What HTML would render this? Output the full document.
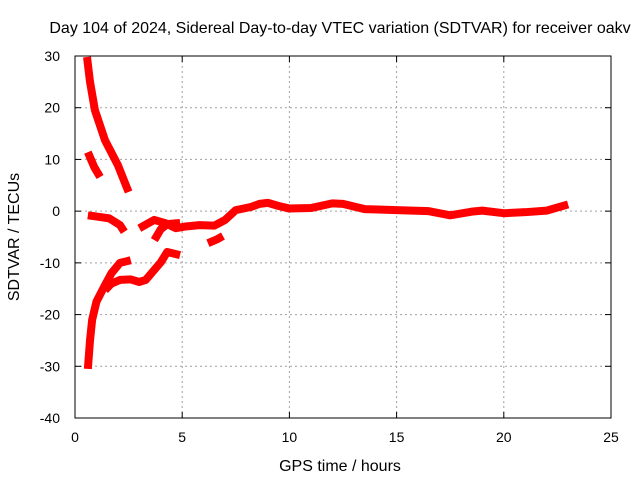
<!DOCTYPE html>
<html><head><meta charset="utf-8"><style>
body{margin:0;background:#fff}
svg{display:block;font-family:"Liberation Sans",sans-serif}
</style></head><body>
<svg id="chart" width="640" height="480" viewBox="0 0 640 480" xmlns="http://www.w3.org/2000/svg">
<text x="340" y="33" font-size="16" text-anchor="middle">Day 104 of 2024, Sidereal Day-to-day VTEC variation (SDTVAR) for receiver oakv</text>
<g id="grid"></g>
<g id="series"></g>
<rect x="75" y="56" width="536" height="362" fill="none" stroke="#000" stroke-width="1"/>
<g id="ticks"></g>
<text x="340" y="471" font-size="16" text-anchor="middle">GPS time / hours</text>
<text transform="translate(19,237) rotate(-90)" font-size="16" text-anchor="middle">SDTVAR / TECUs</text>
</svg>
<script>
const xTicks=[0,5,10,15,20,25];
const yTicks=[30,20,10,0,-10,-20,-30,-40];
const segA_h=[0.56,0.7,0.93,1.4,2.0,2.5];
const segA_v=[29.8,25,19.5,13.7,8.9,3.7];
const segB_h=[0.6,0.9,1.17];
const segB_v=[11.4,8.5,6.6];
const segC_h=[0.6,1.1,1.6,2.1,2.3];
const segC_v=[-0.8,-1.1,-1.4,-2.7,-4];
const segD_h=[0.6,0.7,0.8,1.0,1.4,1.7,2.1,2.6];
const segD_v=[-30.5,-25,-21,-17.5,-14.3,-12,-10,-9.5];
const segE_h=[1.4,1.7,2.1,2.6,3.0,3.3,4.0,4.3,4.9];
const segE_v=[-15.3,-14,-13.3,-13.2,-13.7,-13.3,-9.9,-7.9,-8.5];
const segF_h=[3.0,3.7,4.2,4.7,5.1,5.8,6.5,7.0,7.5,8.2,8.6,9.0,9.5,10,11,12,12.5,13.5,15,16.5,17.5,18.5,19,20,21,22,23];
const segF_v=[-3.3,-1.7,-2.3,-3.3,-3.0,-2.7,-2.8,-1.7,0.2,0.8,1.4,1.6,1.0,0.5,0.6,1.5,1.4,0.4,0.2,0,-0.8,-0.1,0.1,-0.4,-0.2,0.1,1.3];
const segG_h=[3.7,4.0,4.3,4.9];
const segG_v=[-5.6,-3.5,-2.5,-2.3];
const segH_h=[6.2,6.6,6.9];
const segH_v=[-6.2,-5.5,-4.8];
const segments=[[segA_h,segA_v],[segB_h,segB_v],[segC_h,segC_v],[segD_h,segD_v],[segE_h,segE_v],[segF_h,segF_v],[segG_h,segG_v],[segH_h,segH_v]];
const X=h=>75+h*536/25;
const Y=v=>56+(30-v)*362/70;
const NS="http://www.w3.org/2000/svg";
const grid=document.getElementById('grid'),ticks=document.getElementById('ticks'),ser=document.getElementById('series');
function mk(tag,attrs,parent){const e=document.createElementNS(NS,tag);for(const k in attrs)e.setAttribute(k,attrs[k]);parent.appendChild(e);return e;}
xTicks.forEach(t=>{
  if(t>0&&t<25){const g=mk('line',{x1:X(t),x2:X(t),y1:56,y2:418,stroke:'#a0a0a0','stroke-dasharray':'2,3'},grid);
  
  }
  mk('line',{x1:X(t),x2:X(t),y1:418,y2:412,stroke:'#000'},ticks);
  mk('line',{x1:X(t),x2:X(t),y1:56,y2:62,stroke:'#000'},ticks);
  const l=mk('text',{x:X(t),y:442,'font-size':14,'text-anchor':'middle'},ticks);l.textContent=t;
  
  
});
yTicks.forEach(t=>{
  if(t<30&&t>-40){const g=mk('line',{x1:75,x2:611,y1:Y(t),y2:Y(t),stroke:'#a0a0a0','stroke-dasharray':'2,3'},grid);
  
  }
  mk('line',{x1:75,x2:81,y1:Y(t),y2:Y(t),stroke:'#000'},ticks);
  mk('line',{x1:611,x2:605,y1:Y(t),y2:Y(t),stroke:'#000'},ticks);
  const l=mk('text',{x:60,y:Y(t)+5,'font-size':14,'text-anchor':'end'},ticks);l.textContent=t;
  
  
});
segments.forEach(([hs,vs])=>{
  const p=mk('polyline',{points:hs.map((h,i)=>X(h)+','+Y(vs[i])).join(' '),fill:'none',stroke:'#f00','stroke-width':8,'stroke-linejoin':'round','stroke-linecap':'butt'},ser);
  
  
});
</script>
</body></html>
